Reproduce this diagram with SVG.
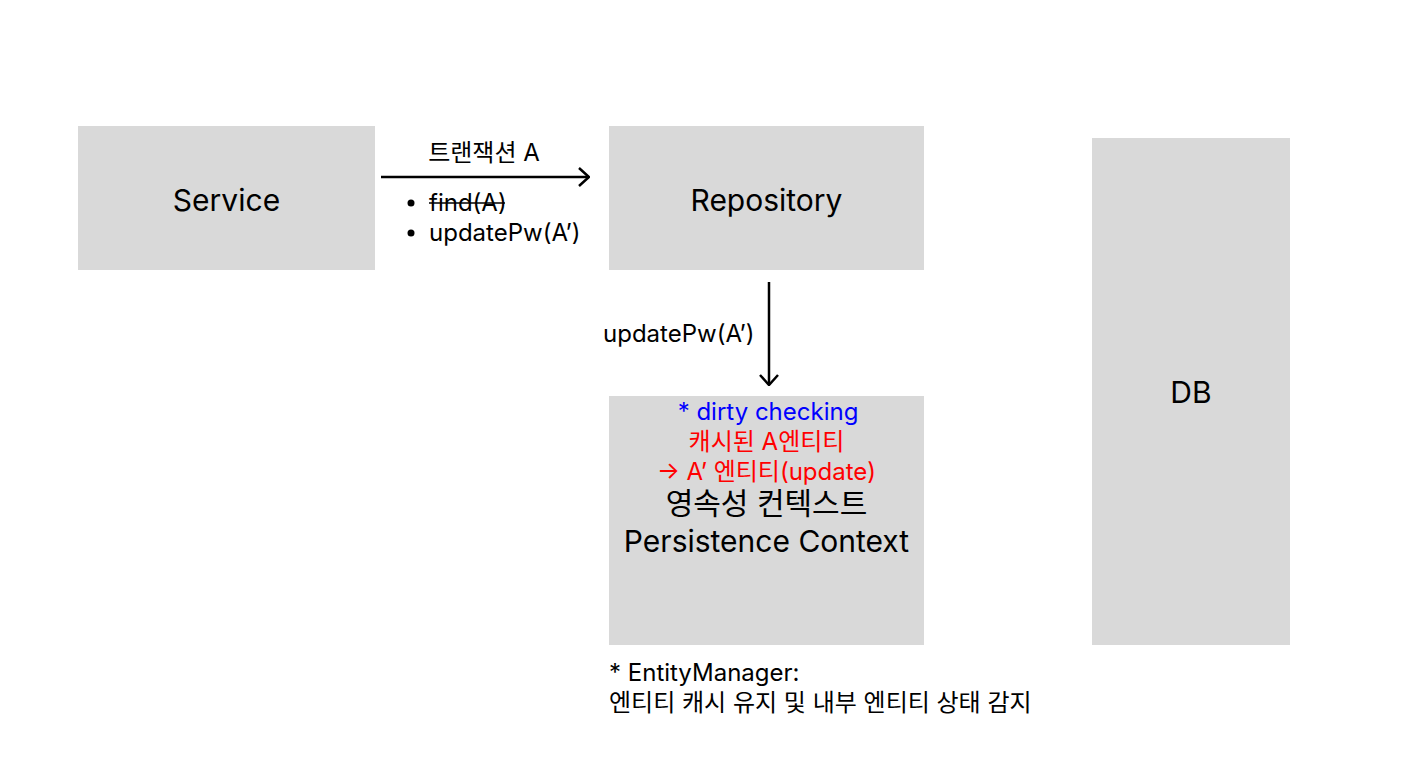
<svg xmlns="http://www.w3.org/2000/svg" width="1416" height="771" viewBox="0 0 1416 771">
<style>
.box{fill:#d9d9d9}
.t{font-family:Inter,"Noto Sans","Noto Sans CJK KR",sans-serif;fill:#000}
.big{font-size:30px}
.mid{font-size:24px}
.c{text-anchor:middle}
.ln{stroke:#000;stroke-width:2.5;fill:none}
</style>
<defs>
<marker id="ah" viewBox="0 0 12 20" refX="11" refY="10" markerWidth="12" markerHeight="20" markerUnits="userSpaceOnUse" orient="auto">
<path d="M1,1 L11,10 L1,19" fill="none" stroke="#000" stroke-width="2.5"/>
</marker>
</defs>
<rect width="1416" height="771" fill="#fff"/>
<g id="service"><rect class="box" x="78" y="126" width="297" height="144"/><text class="t big c" x="226.5" y="211">Service</text></g>
<g id="repository"><rect class="box" x="609" y="126" width="315" height="144"/><text class="t big c" x="766.5" y="211">Repository</text></g>
<g id="persistence"><rect class="box" x="609" y="396" width="315" height="249"/>
<text class="t mid c" x="768" y="420" style="fill:#0000ff">* dirty checking</text>
<text class="t mid c" x="766.5" y="450" style="fill:#ff0000">캐시된 A엔티티</text>
<text class="t mid c" x="766.5" y="480" style="fill:#ff0000">→ A’ 엔티티(update)</text>
<text class="t big c" x="766.5" y="514">영속성 컨텍스트</text>
<text class="t big c" x="766.5" y="552">Persistence Context</text>
</g>
<g id="db"><rect class="box" x="1092" y="138" width="198" height="507"/><text class="t big c" x="1191" y="403">DB</text></g>
<g id="connectors">
<line class="ln" x1="381" y1="177" x2="589" y2="177" marker-end="url(#ah)"/>
<line class="ln" x1="769" y1="282" x2="769" y2="385" marker-end="url(#ah)"/>
</g>
<g id="labels">
<text class="t mid c" x="484" y="161">트랜잭션 A</text>
<circle cx="411" cy="203" r="3.5" fill="#000"/>
<text class="t mid" x="429" y="211">find(A)</text>
<line x1="429" y1="203" x2="505" y2="203" stroke="#000" stroke-width="1.5"/>
<circle cx="411" cy="233" r="3.5" fill="#000"/>
<text class="t mid" x="429" y="241">updatePw(A’)</text>
<text class="t mid" x="603" y="342">updatePw(A’)</text>
<text class="t mid" x="609" y="681">* EntityManager:</text>
<text class="t mid" x="609" y="711">엔티티 캐시 유지 및 내부 엔티티 상태 감지</text>
</g>
</svg>
